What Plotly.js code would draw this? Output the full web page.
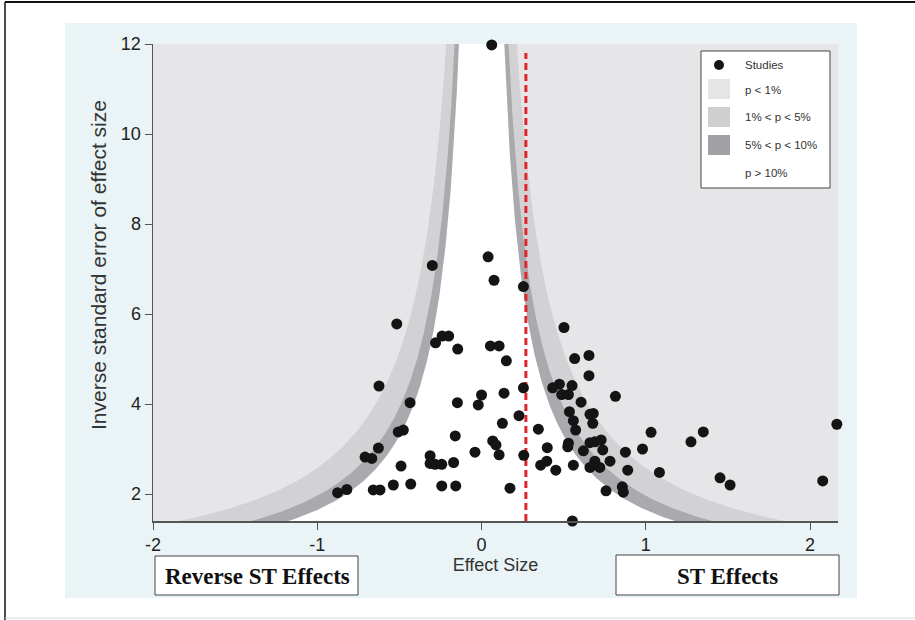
<!DOCTYPE html>
<html>
<head>
<meta charset="utf-8">
<script src="https://cdn.plot.ly/plotly-3.0.1.min.js"></script>
<style>html,body{margin:0;padding:0;background:#fff;}#chart{width:915px;height:620px;}</style>
</head>
<body>
<div id="chart"></div>
<script>
// ---- Data ----
const studyEffect = [0.062,0.04,-0.30,0.076,0.255,-0.516,0.502,-0.24,-0.20,-0.28,0.054,0.107,-0.145,0.654,0.567,0.151,0.654,0.474,0.551,-0.624,0.433,0.255,0.137,0.488,0.529,0.0,0.815,0.606,-0.435,-0.147,-0.02,0.535,0.68,0.66,0.228,0.559,0.127,0.677,2.163,0.346,-0.476,0.573,-0.507,1.35,1.032,-0.16,0.728,0.068,0.69,1.275,0.66,0.529,0.088,0.525,0.40,-0.628,0.98,0.738,0.62,0.876,-0.04,0.107,0.257,-0.313,-0.709,-0.668,0.397,0.69,0.782,-0.17,-0.313,-0.283,-0.242,0.36,0.559,-0.49,0.66,0.72,0.452,0.89,1.083,1.452,2.077,-0.431,-0.537,1.513,-0.242,-0.157,0.857,0.173,-0.82,-0.659,-0.618,0.758,0.863,-0.876,0.553];
const studyPrecision = [11.98,7.27,7.08,6.75,6.61,5.78,5.70,5.51,5.51,5.36,5.29,5.29,5.22,5.08,5.01,4.96,4.63,4.44,4.41,4.40,4.36,4.36,4.24,4.21,4.21,4.20,4.17,4.04,4.03,4.03,3.98,3.83,3.79,3.77,3.74,3.63,3.57,3.57,3.55,3.44,3.42,3.42,3.38,3.38,3.37,3.29,3.20,3.18,3.16,3.16,3.14,3.13,3.09,3.05,3.03,3.02,3.00,2.98,2.96,2.93,2.93,2.87,2.86,2.85,2.82,2.79,2.73,2.73,2.73,2.70,2.68,2.66,2.66,2.64,2.64,2.62,2.59,2.59,2.53,2.53,2.48,2.36,2.29,2.22,2.20,2.20,2.18,2.18,2.16,2.13,2.10,2.09,2.09,2.07,2.04,2.03,1.40];
const meanEffect = 0.27;
const criticalZ = [2.576, 1.960, 1.645];         // 1%, 5%, 10% two-sided
const bandNames = ["1% < p < 5%", "5% < p < 10%", "p > 10%"];
const legendLabels = ["Studies", "p < 1%", "1% < p < 5%", "5% < p < 10%", "p > 10%"];
const xTicks = [-2, -1, 0, 1, 2];
const yTicks = [2, 4, 6, 8, 10, 12];
const boxLabels = ["Reverse ST Effects", "ST Effects"];
const xTitle = "Effect Size";
const yTitle = "Inverse standard error of effect size";

// ---- Styling ----
const bandColors = ["#d2d2d5", "#a9a9ae", "#ffffff"];
const swatchColors = ["#e5e5e7", "#cfcfd2", "#a0a0a5", "#ffffff"];
const FONT = "Liberation Sans, Arial, Helvetica, sans-serif";
const SERIF = "Liberation Serif, Times New Roman, serif";

// contour curves: effect = ±z / precision
const precGrid = [];
for (let p = 12.6; p >= 1.3; p -= 0.02) precGrid.push(p);
const traces = criticalZ.map((z, i) => {
  const left = precGrid.map(p => -z / p);
  const right = precGrid.slice().reverse().map(p => z / p);
  return {
    x: left.concat(right),
    y: precGrid.concat(precGrid.slice().reverse()),
    type: "scatter", mode: "lines", fill: "toself",
    fillcolor: bandColors[i], line: {width: 0, color: bandColors[i]},
    name: bandNames[i], hoverinfo: "skip", showlegend: false
  };
});
traces.push({
  x: [meanEffect, meanEffect], y: [1.4, 11.8], type: "scatter", mode: "lines",
  line: {color: "#e0242b", width: 3, dash: "7px,4px"}, showlegend: false, hoverinfo: "skip"
});
traces.push({
  x: studyEffect, y: studyPrecision, type: "scatter", mode: "markers", name: "Studies",
  marker: {color: "#141414", size: 11}, cliponaxis: false, showlegend: false
});

// pixel -> paper helpers
const L = 153, R = 838, T = 44, B = 521;
const PX = px => (px - L) / (R - L);
const PY = py => (B - py) / (B - T);
const rect = (x0, y0, x1, y1, fill, line, layer) => ({
  type: "rect", xref: "paper", yref: "paper",
  x0: PX(x0), x1: PX(x1), y0: PY(y1), y1: PY(y0),
  fillcolor: fill, line: line || {width: 0}, layer: layer || "above"
});

const shapes = [
  rect(0, 0, 65, 620, "#ffffff", null, "below"),
  rect(857, 0, 915, 620, "#ffffff", null, "below"),
  rect(0, 0, 915, 23, "#ffffff", null, "below"),
  rect(0, 598, 915, 620, "#ffffff", null, "below"),
  {type: "line", xref: "paper", yref: "paper", x0: PX(5), x1: PX(915), y0: PY(2), y1: PY(2), line: {color: "#111", width: 2}},
  {type: "line", xref: "paper", yref: "paper", x0: PX(5), x1: PX(5), y0: PY(2), y1: PY(620), line: {color: "#111", width: 1.5}},
  {type: "line", xref: "paper", yref: "paper", x0: PX(5), x1: PX(915), y0: PY(618), y1: PY(618), line: {color: "#d8d8d8", width: 1}},
  // legend
  rect(701, 51, 830, 188, "#ffffff", {color: "#444", width: 1}),
  {type: "circle", xref: "paper", yref: "paper", x0: PX(714), x1: PX(724), y0: PY(70), y1: PY(60), fillcolor: "#141414", line: {width: 0}},
  rect(708, 79, 730, 99, swatchColors[0]),
  rect(708, 107, 730, 127, swatchColors[1]),
  rect(708, 135, 730, 155, swatchColors[2]),
  // bottom boxes
  rect(155, 556, 358, 595, "#ffffff", {color: "#444", width: 1}),
  rect(616, 555, 839, 595, "#ffffff", {color: "#444", width: 1})
];

const legendY = [65, 90, 117, 145, 173];
const annotations = legendLabels.map((t, i) => ({
  text: t, xref: "paper", yref: "paper", x: PX(743), y: PY(legendY[i]),
  xanchor: "left", yanchor: "middle", showarrow: false,
  font: {family: FONT, size: 11.5, color: "#333"}
}));
annotations.push({
  text: "<b>" + boxLabels[0] + "</b>", xref: "paper", yref: "paper", x: PX(257), y: PY(576),
  xanchor: "center", yanchor: "middle", showarrow: false, font: {family: SERIF, size: 23, color: "#111"}
});
annotations.push({
  text: "<b>" + boxLabels[1] + "</b>", xref: "paper", yref: "paper", x: PX(727), y: PY(576),
  xanchor: "center", yanchor: "middle", showarrow: false, font: {family: SERIF, size: 23, color: "#111"}
});
annotations.push({
  text: yTitle, xref: "paper", yref: "paper", x: PX(98), y: PY(265), textangle: -90,
  xanchor: "center", yanchor: "middle", showarrow: false, font: {family: FONT, size: 21, color: "#333"}
});

const layout = {
  width: 915, height: 620,
  margin: {l: L, r: 915 - R, t: T, b: 620 - B, pad: 0},
  paper_bgcolor: "#eaf3f6", plot_bgcolor: "#e6e6e8",
  showlegend: false,
  font: {family: FONT, color: "#222"},
  xaxis: {
    range: [-2, 2.17], tickvals: xTicks, ticktext: xTicks.map(String),
    ticks: "outside", ticklen: 7, tickcolor: "#555", showline: true, linecolor: "#555", linewidth: 1.5,
    showgrid: false, zeroline: false, tickfont: {size: 18, color: "#222"},
    title: {text: xTitle, font: {size: 18, color: "#333"}, standoff: 4}
  },
  yaxis: {
    range: [1.4, 12], tickvals: yTicks, ticktext: yTicks.map(String),
    ticks: "outside", ticklen: 7, tickcolor: "#555", showline: true, linecolor: "#555", linewidth: 1.5,
    showgrid: false, zeroline: false, tickfont: {size: 18, color: "#222"}
  },
  shapes: shapes,
  annotations: annotations
};

Plotly.newPlot("chart", traces, layout, {displayModeBar: false, staticPlot: true});
</script>
</body>
</html>
